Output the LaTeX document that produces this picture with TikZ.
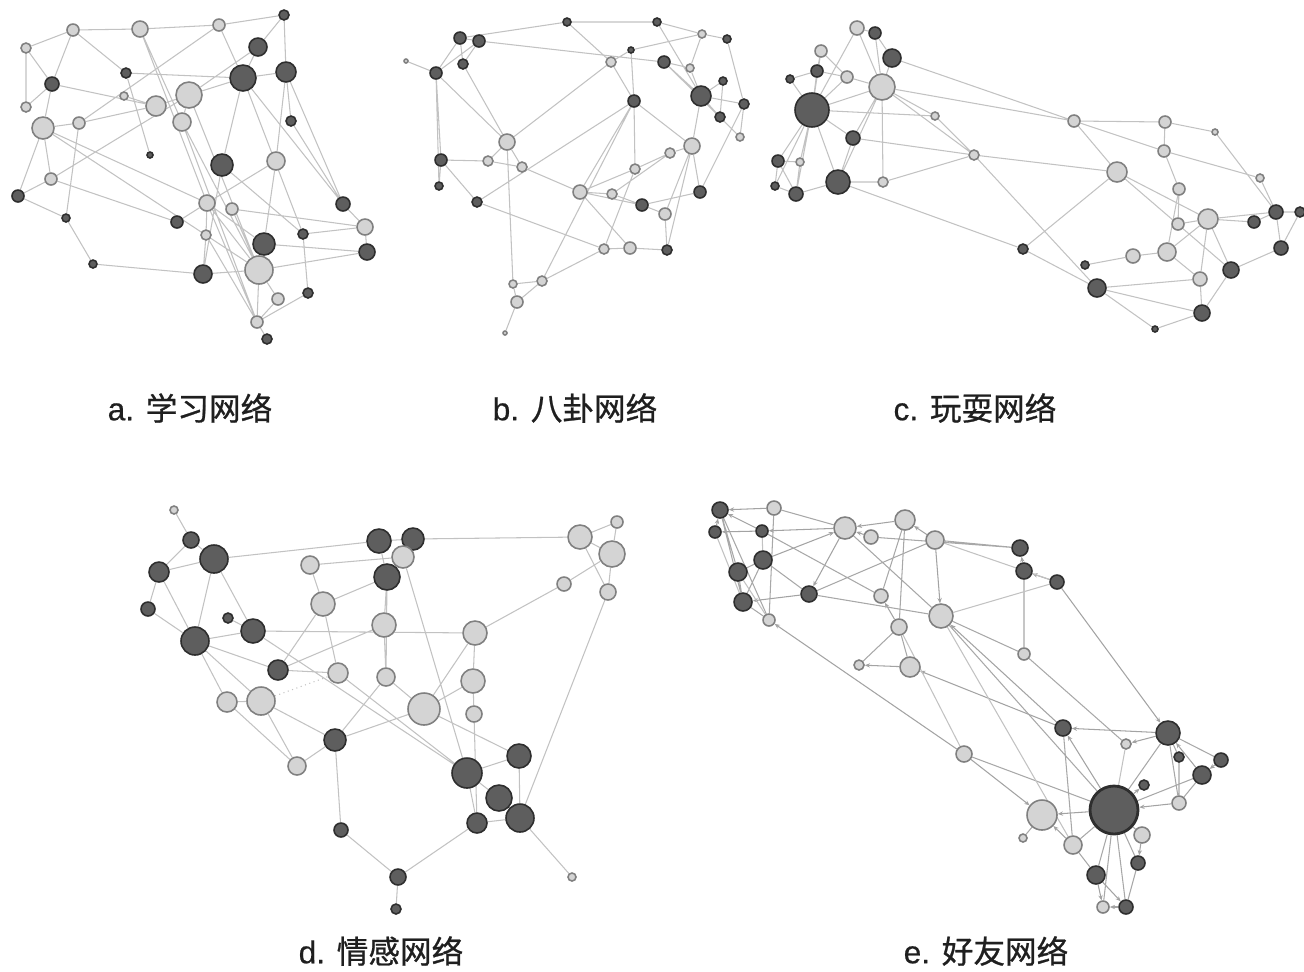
\documentclass[tikz,border=0pt]{standalone}
\usepackage{fontspec}
\setmainfont{Liberation Sans}
\newfontfamily\latn{Liberation Sans}[FakeBold=0.5]
\newfontfamily\cjk{Noto Sans CJK SC}[FakeBold=0.8]
\usetikzlibrary{backgrounds, arrows.meta}
\tikzset{
    dnode/.style={
        circle,
        draw=black!82,
        fill=black!63,
        line width=0.9pt,
        inner sep=0pt,
        minimum size=#1*0.4mm
    },
    lnode/.style={
        circle,
        draw=black!50,
        fill=black!17,
        line width=0.9pt,
        inner sep=0pt,
        minimum size=#1*0.4mm
    },
    link/.style={
        draw=black!24,
        line width=0.6pt
    },
    linkdk/.style={
        draw=black!36,
        line width=0.6pt,
        -{Stealth[length=3pt, width=2.5pt]}
    },
    caption/.style={
        font=\latn\fontsize{18}{20}\selectfont,
        text=black!88
    }
}

\begin{document}
\begin{tikzpicture}[x=0.02cm, y=-0.02cm]
    \useasboundingbox (0,0) rectangle (1304,971);

    % a: study network
    \node[dnode=5] (a1) at (284,15) {};
    \node[lnode=6] (a2) at (219,25) {};
    \node[lnode=8] (a3) at (140,29) {};
    \node[lnode=6] (a4) at (73,30) {};
    \node[lnode=5] (a5) at (26,48) {};
    \node[dnode=9] (a6) at (258,47) {};
    \node[dnode=10] (a7) at (286,72) {};
    \node[dnode=5] (a8) at (126,73) {};
    \node[dnode=13] (a9) at (243,78) {};
    \node[dnode=7] (a10) at (52,84) {};
    \node[lnode=13] (a11) at (189,95) {};
    \node[lnode=4] (a12) at (124,96) {};
    \node[lnode=10] (a13) at (156,106) {};
    \node[lnode=5] (a14) at (26,107) {};
    \node[lnode=9] (a15) at (182,122) {};
    \node[lnode=6] (a16) at (79,123) {};
    \node[lnode=11] (a17) at (43,128) {};
    \node[dnode=5] (a18) at (291,121) {};
    \node[dnode=3] (a19) at (150,155) {};
    \node[dnode=11] (a20) at (222,165) {};
    \node[lnode=9] (a21) at (276,161) {};
    \node[lnode=6] (a22) at (51,179) {};
    \node[dnode=6] (a23) at (18,196) {};
    \node[lnode=8] (a24) at (207,203) {};
    \node[lnode=6] (a25) at (232,209) {};
    \node[dnode=7] (a26) at (343,204) {};
    \node[dnode=4] (a27) at (66,218) {};
    \node[dnode=6] (a28) at (177,222) {};
    \node[lnode=5] (a29) at (206,235) {};
    \node[dnode=5] (a30) at (303,234) {};
    \node[lnode=8] (a31) at (365,227) {};
    \node[dnode=11] (a32) at (264,244) {};
    \node[dnode=8] (a33) at (367,252) {};
    \node[dnode=4] (a34) at (93,264) {};
    \node[dnode=9] (a35) at (203,274) {};
    \node[lnode=14] (a36) at (259,270) {};
    \node[dnode=5] (a37) at (308,293) {};
    \node[lnode=6] (a38) at (278,299) {};
    \node[lnode=6] (a39) at (257,322) {};
    \node[dnode=5] (a40) at (267,339) {};

    % b: gossip network
    \node[dnode=4] (b1) at (567,22) {};
    \node[dnode=4] (b2) at (657,22) {};
    \node[dnode=6] (b3) at (460,38) {};
    \node[dnode=6] (b4) at (479,41) {};
    \node[lnode=4] (b5) at (702,34) {};
    \node[dnode=4] (b6) at (727,39) {};
    \node[dnode=3] (b7) at (631,50) {};
    \node[lnode=5] (b8) at (611,62) {};
    \node[dnode=6] (b9) at (664,62) {};
    \node[lnode=4] (b10) at (690,68) {};
    \node[lnode=2] (b11) at (406,61) {};
    \node[dnode=6] (b12) at (436,73) {};
    \node[dnode=5] (b13) at (463,64) {};
    \node[dnode=4] (b14) at (723,81) {};
    \node[dnode=10] (b15) at (701,96) {};
    \node[dnode=6] (b16) at (634,101) {};
    \node[dnode=5] (b17) at (744,104) {};
    \node[dnode=5] (b18) at (720,117) {};
    \node[lnode=4] (b19) at (740,137) {};
    \node[lnode=8] (b20) at (507,142) {};
    \node[lnode=8] (b21) at (692,146) {};
    \node[lnode=5] (b22) at (670,153) {};
    \node[dnode=6] (b23) at (441,160) {};
    \node[lnode=5] (b24) at (488,161) {};
    \node[lnode=5] (b25) at (522,167) {};
    \node[lnode=5] (b26) at (635,169) {};
    \node[dnode=4] (b27) at (439,186) {};
    \node[lnode=7] (b28) at (580,192) {};
    \node[lnode=5] (b29) at (612,194) {};
    \node[dnode=6] (b30) at (700,192) {};
    \node[dnode=5] (b31) at (477,202) {};
    \node[dnode=6] (b32) at (642,205) {};
    \node[lnode=6] (b33) at (665,214) {};
    \node[lnode=5] (b34) at (604,249) {};
    \node[lnode=6] (b35) at (630,248) {};
    \node[dnode=5] (b36) at (667,250) {};
    \node[lnode=4] (b37) at (513,284) {};
    \node[lnode=5] (b38) at (542,281) {};
    \node[lnode=6] (b39) at (517,302) {};
    \node[lnode=2] (b40) at (505,333) {};

    % c: play network
    \node[lnode=7] (c1) at (857,28) {};
    \node[dnode=6] (c2) at (875,33) {};
    \node[lnode=6] (c3) at (821,51) {};
    \node[dnode=9] (c4) at (892,58) {};
    \node[dnode=6] (c5) at (817,71) {};
    \node[dnode=4] (c6) at (790,79) {};
    \node[lnode=6] (c7) at (847,77) {};
    \node[lnode=13] (c8) at (882,87) {};
    \node[dnode=17] (c9) at (812,110) {};
    \node[lnode=4] (c10) at (935,116) {};
    \node[lnode=6] (c11) at (1074,121) {};
    \node[lnode=6] (c12) at (1165,122) {};
    \node[lnode=3] (c13) at (1215,132) {};
    \node[dnode=7] (c14) at (853,138) {};
    \node[lnode=5] (c15) at (974,155) {};
    \node[lnode=6] (c16) at (1164,151) {};
    \node[dnode=6] (c17) at (778,161) {};
    \node[lnode=4] (c18) at (800,162) {};
    \node[lnode=10] (c19) at (1117,172) {};
    \node[dnode=12] (c20) at (838,182) {};
    \node[lnode=5] (c21) at (883,182) {};
    \node[dnode=4] (c22) at (775,186) {};
    \node[dnode=7] (c23) at (796,194) {};
    \node[lnode=4] (c24) at (1260,178) {};
    \node[lnode=6] (c25) at (1179,189) {};
    \node[lnode=10] (c26) at (1208,219) {};
    \node[lnode=6] (c27) at (1178,224) {};
    \node[dnode=6] (c28) at (1254,222) {};
    \node[dnode=7] (c29) at (1276,212) {};
    \node[dnode=5] (c30) at (1300,212) {};
    \node[dnode=5] (c31) at (1023,249) {};
    \node[lnode=7] (c32) at (1133,256) {};
    \node[lnode=9] (c33) at (1167,252) {};
    \node[dnode=7] (c34) at (1281,248) {};
    \node[dnode=4] (c35) at (1085,265) {};
    \node[dnode=8] (c36) at (1231,270) {};
    \node[dnode=9] (c37) at (1097,288) {};
    \node[lnode=7] (c38) at (1200,279) {};
    \node[dnode=8] (c39) at (1202,313) {};
    \node[dnode=3] (c40) at (1155,329) {};

    % d: emotion network
    \node[lnode=4] (d1) at (174,510) {};
    \node[dnode=8] (d2) at (191,540) {};
    \node[dnode=14] (d3) at (214,559) {};
    \node[dnode=10] (d4) at (159,572) {};
    \node[dnode=7] (d5) at (148,609) {};
    \node[dnode=5] (d6) at (228,618) {};
    \node[dnode=12] (d7) at (253,631) {};
    \node[dnode=14] (d8) at (195,641) {};
    \node[dnode=12] (d9) at (379,541) {};
    \node[dnode=11] (d10) at (413,539) {};
    \node[lnode=9] (d11) at (310,565) {};
    \node[lnode=11] (d12) at (403,557) {};
    \node[dnode=13] (d13) at (387,577) {};
    \node[lnode=12] (d14) at (323,604) {};
    \node[lnode=12] (d15) at (384,625) {};
    \node[lnode=12] (d16) at (580,537) {};
    \node[lnode=6] (d17) at (617,522) {};
    \node[lnode=13] (d18) at (612,554) {};
    \node[lnode=7] (d19) at (564,584) {};
    \node[lnode=8] (d20) at (608,592) {};
    \node[lnode=12] (d21) at (475,633) {};
    \node[dnode=10] (d22) at (278,670) {};
    \node[lnode=10] (d23) at (338,673) {};
    \node[lnode=9] (d24) at (386,677) {};
    \node[lnode=12] (d25) at (473,681) {};
    \node[lnode=10] (d26) at (227,702) {};
    \node[lnode=14] (d27) at (261,701) {};
    \node[lnode=16] (d28) at (424,709) {};
    \node[lnode=8] (d29) at (474,714) {};
    \node[dnode=11] (d30) at (335,740) {};
    \node[lnode=9] (d31) at (297,766) {};
    \node[dnode=12] (d32) at (519,756) {};
    \node[dnode=15] (d33) at (467,773) {};
    \node[dnode=13] (d34) at (499,798) {};
    \node[dnode=14] (d35) at (520,818) {};
    \node[dnode=10] (d36) at (477,823) {};
    \node[dnode=7] (d37) at (341,830) {};
    \node[lnode=4] (d38) at (572,877) {};
    \node[dnode=8] (d39) at (398,877) {};
    \node[dnode=5] (d40) at (396,909) {};

    % e: friend network
    \node[dnode=8] (e1) at (720,510) {};
    \node[lnode=7] (e2) at (774,508) {};
    \node[dnode=6] (e3) at (715,532) {};
    \node[dnode=6] (e4) at (762,531) {};
    \node[lnode=11] (e5) at (845,528) {};
    \node[lnode=10] (e6) at (905,520) {};
    \node[lnode=7] (e7) at (871,537) {};
    \node[lnode=9] (e8) at (935,540) {};
    \node[dnode=8] (e9) at (1020,548) {};
    \node[dnode=9] (e10) at (763,560) {};
    \node[dnode=9] (e11) at (738,572) {};
    \node[dnode=8] (e12) at (1024,571) {};
    \node[dnode=7] (e13) at (1057,582) {};
    \node[dnode=9] (e14) at (743,602) {};
    \node[dnode=8] (e15) at (809,594) {};
    \node[lnode=7] (e16) at (881,596) {};
    \node[lnode=12] (e17) at (941,616) {};
    \node[lnode=6] (e18) at (769,620) {};
    \node[lnode=8] (e19) at (899,627) {};
    \node[lnode=5] (e20) at (859,665) {};
    \node[lnode=10] (e21) at (910,667) {};
    \node[lnode=6] (e22) at (1024,654) {};
    \node[dnode=8] (e23) at (1063,728) {};
    \node[dnode=12] (e24) at (1168,733) {};
    \node[lnode=5] (e25) at (1126,744) {};
    \node[lnode=8] (e26) at (964,754) {};
    \node[dnode=5] (e27) at (1179,757) {};
    \node[dnode=7] (e28) at (1221,760) {};
    \node[dnode=9] (e29) at (1202,775) {};
    \node[dnode=5] (e30) at (1144,785) {};
    \node[dnode=24, line width=1.6pt] (e31) at (1114,810) {};
    \node[lnode=15] (e32) at (1042,815) {};
    \node[lnode=7] (e33) at (1179,803) {};
    \node[lnode=4] (e34) at (1023,838) {};
    \node[lnode=8] (e35) at (1142,835) {};
    \node[lnode=9] (e36) at (1073,845) {};
    \node[dnode=7] (e37) at (1138,863) {};
    \node[dnode=9] (e38) at (1096,875) {};
    \node[lnode=6] (e39) at (1103,907) {};
    \node[dnode=7] (e40) at (1126,907) {};

    \begin{scope}[on background layer]
        \draw[link] (a4) -- (a5) (a4) -- (a3) (a3) -- (a2) (a2) -- (a1) (a1) -- (a6) (a1) -- (a7)
            (a2) -- (a9) (a4) -- (a10) (a4) -- (a8) (a5) -- (a10) (a5) -- (a14) (a10) -- (a14)
            (a10) -- (a17) (a10) -- (a13) (a8) -- (a9) (a8) -- (a19) (a3) -- (a24) (a3) -- (a15)
            (a16) -- (a13) (a16) -- (a2) (a17) -- (a16) (a17) -- (a22) (a17) -- (a23) (a22) -- (a23)
            (a22) -- (a11) (a16) -- (a27) (a23) -- (a27) (a27) -- (a34) (a34) -- (a35) (a22) -- (a28)
            (a17) -- (a24) (a28) -- (a24) (a11) -- (a13) (a11) -- (a9) (a11) -- (a6) (a11) -- (a15)
            (a11) -- (a36) (a15) -- (a36) (a15) -- (a39) (a9) -- (a20) (a9) -- (a26) (a9) -- (a30)
            (a6) -- (a9) (a7) -- (a9) (a7) -- (a21) (a21) -- (a24) (a21) -- (a32) (a20) -- (a35)
            (a20) -- (a30) (a24) -- (a32) (a24) -- (a36) (a24) -- (a39) (a25) -- (a31) (a25) -- (a36)
            (a26) -- (a31) (a7) -- (a26) (a31) -- (a33) (a30) -- (a31) (a32) -- (a33) (a30) -- (a37)
            (a36) -- (a33) (a36) -- (a38) (a36) -- (a39) (a39) -- (a40) (a38) -- (a39) (a37) -- (a39)
            (a29) -- (a35) (a29) -- (a24) (a35) -- (a36) (a29) -- (a40) (a12) -- (a13) (a17) -- (a36)
            (a7) -- (a18) (a18) -- (a26);

        \draw[link] (b1) -- (b2) (b1) -- (b3) (b3) -- (b4) (b3) -- (b12) (b4) -- (b12) (b4) -- (b13)
            (b3) -- (b13) (b11) -- (b12) (b12) -- (b23) (b13) -- (b20) (b12) -- (b20) (b23) -- (b24)
            (b23) -- (b27) (b23) -- (b31) (b24) -- (b20) (b20) -- (b25) (b24) -- (b25) (b25) -- (b28)
            (b28) -- (b29) (b28) -- (b32) (b28) -- (b35) (b29) -- (b32) (b32) -- (b33) (b32) -- (b30)
            (b33) -- (b36) (b34) -- (b35) (b35) -- (b36) (b34) -- (b38) (b38) -- (b37) (b37) -- (b39)
            (b39) -- (b40) (b38) -- (b39) (b31) -- (b34) (b1) -- (b8) (b8) -- (b7) (b8) -- (b16)
            (b7) -- (b16) (b2) -- (b15) (b2) -- (b5) (b5) -- (b6) (b6) -- (b17) (b9) -- (b15)
            (b9) -- (b10) (b10) -- (b15) (b15) -- (b14) (b15) -- (b18) (b15) -- (b21) (b15) -- (b17)
            (b14) -- (b18) (b17) -- (b19) (b17) -- (b30) (b21) -- (b22) (b22) -- (b26) (b26) -- (b28)
            (b16) -- (b26) (b16) -- (b38) (b16) -- (b21) (b21) -- (b30) (b21) -- (b36) (b4) -- (b9)
            (b8) -- (b20) (b16) -- (b28) (b20) -- (b37) (b9) -- (b19) (b5) -- (b10) (b7) -- (b5)
            (b22) -- (b29) (b33) -- (b21) (b26) -- (b34) (b12) -- (b27) (b31) -- (b16);

        \draw[link] (c9) -- (c3) (c9) -- (c5) (c9) -- (c6) (c9) -- (c7) (c9) -- (c8) (c9) -- (c14)
            (c9) -- (c17) (c9) -- (c18) (c9) -- (c20) (c9) -- (c22) (c9) -- (c23) (c9) -- (c1)
            (c9) -- (c10) (c8) -- (c1) (c8) -- (c2) (c8) -- (c4) (c8) -- (c7) (c8) -- (c21)
            (c8) -- (c10) (c8) -- (c11) (c8) -- (c14) (c8) -- (c20) (c3) -- (c5) (c3) -- (c7)
            (c1) -- (c2) (c2) -- (c4) (c4) -- (c11) (c10) -- (c15) (c14) -- (c15) (c14) -- (c20)
            (c17) -- (c18) (c17) -- (c22) (c18) -- (c23) (c20) -- (c23) (c20) -- (c21) (c21) -- (c15)
            (c20) -- (c31) (c15) -- (c19) (c15) -- (c37) (c11) -- (c12) (c11) -- (c19) (c12) -- (c13)
            (c12) -- (c16) (c11) -- (c16) (c16) -- (c25) (c13) -- (c29) (c24) -- (c29) (c19) -- (c31)
            (c19) -- (c26) (c19) -- (c36) (c25) -- (c27) (c26) -- (c27) (c26) -- (c28) (c26) -- (c29)
            (c26) -- (c33) (c26) -- (c36) (c26) -- (c38) (c28) -- (c29) (c29) -- (c30) (c29) -- (c34)
            (c30) -- (c34) (c33) -- (c32) (c32) -- (c35) (c33) -- (c25) (c36) -- (c39) (c36) -- (c34)
            (c38) -- (c37) (c38) -- (c39) (c37) -- (c39) (c39) -- (c40) (c40) -- (c37) (c33) -- (c38)
            (c16) -- (c24) (c31) -- (c37) (c22) -- (c23) (c17) -- (c23) (c5) -- (c7) (c6) -- (c5)
            (c8) -- (c15);

        \draw[link] (d1) -- (d2) (d2) -- (d3) (d2) -- (d4) (d4) -- (d3) (d4) -- (d5) (d4) -- (d8)
            (d5) -- (d8) (d3) -- (d8) (d3) -- (d7) (d6) -- (d7) (d8) -- (d7) (d3) -- (d9)
            (d8) -- (d26) (d8) -- (d22) (d8) -- (d27) (d7) -- (d21) (d9) -- (d13) (d10) -- (d12)
            (d10) -- (d16) (d11) -- (d12) (d11) -- (d14) (d13) -- (d14) (d13) -- (d15) (d12) -- (d33)
            (d13) -- (d24) (d14) -- (d22) (d14) -- (d23) (d15) -- (d24) (d15) -- (d22) (d22) -- (d23)
            (d23) -- (d33) (d24) -- (d30) (d24) -- (d28) (d21) -- (d25) (d19) -- (d21) (d21) -- (d28)
            (d25) -- (d28) (d25) -- (d29) (d29) -- (d36) (d28) -- (d30) (d28) -- (d32) (d16) -- (d17)
            (d16) -- (d18) (d16) -- (d20) (d20) -- (d18) (d18) -- (d19) (d18) -- (d17) (d20) -- (d35)
            (d27) -- (d26) (d27) -- (d31) (d27) -- (d30) (d30) -- (d31) (d30) -- (d37) (d37) -- (d39)
            (d39) -- (d36) (d39) -- (d40) (d35) -- (d38) (d33) -- (d32) (d33) -- (d34) (d34) -- (d35)
            (d36) -- (d35) (d36) -- (d33) (d32) -- (d35) (d26) -- (d31) (d9) -- (d10) (d12) -- (d13)
            (d7) -- (d33);
        \draw[link, dotted] (d27) -- (d23);

        \draw[linkdk] (e2) -- (e1);
        \draw[linkdk] (e3) -- (e1);
        \draw[linkdk] (e4) -- (e3);
        \draw[linkdk] (e4) -- (e1);
        \draw[linkdk] (e5) -- (e4);
        \draw[linkdk] (e10) -- (e5);
        \draw[linkdk] (e15) -- (e14);
        \draw[linkdk] (e5) -- (e15);
        \draw[linkdk] (e6) -- (e5);
        \draw[linkdk] (e7) -- (e5);
        \draw[linkdk] (e8) -- (e6);
        \draw[linkdk] (e8) -- (e17);
        \draw[linkdk] (e13) -- (e12);
        \draw[linkdk] (e12) -- (e9);
        \draw[linkdk] (e13) -- (e24);
        \draw[linkdk] (e21) -- (e20);
        \draw[linkdk] (e19) -- (e16);
        \draw[linkdk] (e23) -- (e17);
        \draw[linkdk] (e23) -- (e21);
        \draw[linkdk] (e26) -- (e18);
        \draw[linkdk] (e26) -- (e32);
        \draw[linkdk] (e24) -- (e23);
        \draw[linkdk] (e31) -- (e23);
        \draw[linkdk] (e24) -- (e25);
        \draw[linkdk] (e31) -- (e32);
        \draw[linkdk] (e33) -- (e31);
        \draw[linkdk] (e28) -- (e29);
        \draw[linkdk] (e29) -- (e24);
        \draw[linkdk] (e35) -- (e37);
        \draw[linkdk] (e38) -- (e40);
        \draw[linkdk] (e38) -- (e39);
        \draw[linkdk] (e40) -- (e39);
        \draw[linkdk] (e36) -- (e32);
        \draw[linkdk] (e31) -- (e30);

        \draw[link, draw=black!34] (e1) -- (e11) (e1) -- (e14) (e1) -- (e18) (e2) -- (e5)
            (e2) -- (e18) (e10) -- (e11) (e10) -- (e14) (e10) -- (e15) (e11) -- (e14) (e14) -- (e18)
            (e15) -- (e17) (e15) -- (e8) (e4) -- (e16) (e5) -- (e17) (e6) -- (e16) (e6) -- (e19)
            (e7) -- (e9) (e8) -- (e9) (e12) -- (e22) (e19) -- (e21) (e20) -- (e19) (e17) -- (e22)
            (e17) -- (e31) (e22) -- (e25) (e26) -- (e31) (e23) -- (e36) (e24) -- (e31) (e24) -- (e27)
            (e24) -- (e28) (e24) -- (e33) (e29) -- (e31) (e29) -- (e33) (e27) -- (e33) (e31) -- (e35)
            (e31) -- (e36) (e31) -- (e37) (e31) -- (e38) (e31) -- (e39) (e31) -- (e40) (e32) -- (e34)
            (e36) -- (e38) (e37) -- (e40);
        \draw[link] (e11) -- (e18) (e3) -- (e14) (e17) -- (e36) (e19) -- (e26) (e4) -- (e10)
            (e8) -- (e13) (e25) -- (e31) (e13) -- (e17);
    \end{scope}

    \node[caption] (capa) at (190,408) {a. {\cjk 学习网络}};
    \node[caption] (capb) at (575,408) {b. {\cjk 八卦网络}};
    \node[caption] (capc) at (975,408) {c. {\cjk 玩耍网络}};
    \node[caption] (capd) at (381,951) {d. {\cjk 情感网络}};
    \node[caption] (cape) at (986,951) {e. {\cjk 好友网络}};

\end{tikzpicture}
\end{document}
